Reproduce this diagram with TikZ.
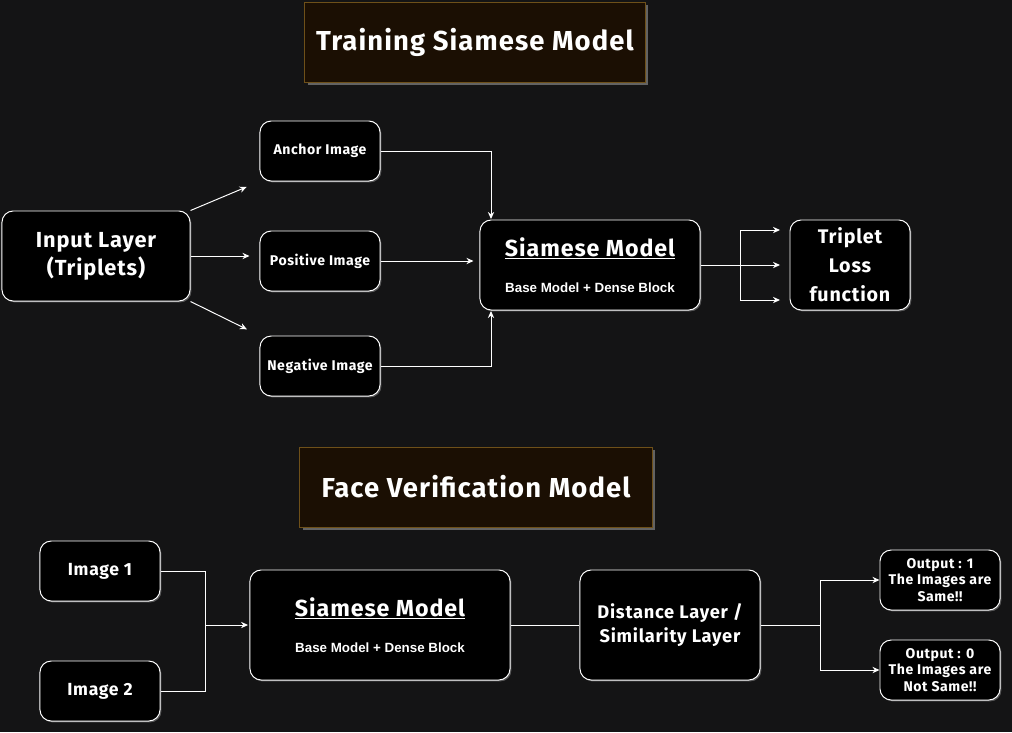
\documentclass[tikz,border=0pt]{standalone}
\usepackage{fontspec}
\setmainfont[LetterSpace=4]{Fira Sans}
\newfontfamily\helv{Liberation Sans}
\usetikzlibrary{positioning, arrows.meta, shadows}

\definecolor{bgdark}{RGB}{20,20,21}
\definecolor{titlefill}{RGB}{27,15,3}
\definecolor{titleedge}{RGB}{110,80,25}

\begin{document}
\begin{tikzpicture}[x=0.025cm, y=-0.025cm, line width=0.7pt, draw=white, >={Stealth[length=5pt,width=4.5pt]}]
	\tikzstyle{block}=[rectangle, rounded corners=8pt, draw=white, fill=black, text=white, align=center, font=\bfseries,
		drop shadow={shadow xshift=1pt, shadow yshift=-1pt, fill=gray!70, opacity=0.45}]
	\tikzstyle{title}=[rectangle, draw=titleedge, fill=titlefill, text=white, font=\bfseries\fontsize{19.5}{22}\selectfont,
		drop shadow={shadow xshift=2pt, shadow yshift=-2pt, fill=gray!60, opacity=0.5}]
	\tikzstyle{small block}=[block, minimum width=3cm, minimum height=1.5cm, font=\bfseries\fontsize{10}{12}\selectfont]
	\tikzstyle{model block}=[block, font=\bfseries\fontsize{16.5}{19}\selectfont]

	% Background
	\fill[bgdark] (0,0) rectangle (1012,732);
	\useasboundingbox (0,0) rectangle (1012,732);

	% Training part
	\node[title, minimum width=8.5cm, minimum height=2cm] (t1) at (475,42) {Training Siamese Model};
	\node[block, minimum width=4.7cm, minimum height=2.25cm, font=\bfseries\fontsize{15.5}{20}\selectfont] (in) at (96,256) {Input Layer\\(Triplets)};
	\node[small block] (anchor) at (320,151) {Anchor Image};
	\node[small block] (pos) at (320,261) {Positive Image};
	\node[small block] (neg) at (320,366) {Negative Image};
	\node[model block, minimum width=5.5cm, minimum height=2.25cm] (siam) at (590,265)
		{\underline{Siamese Model}\\[7pt]{\helv\bfseries\fontsize{9.5}{11}\selectfont Base Model + Dense Block}};
	\node[block, minimum width=3cm, minimum height=2.25cm, font=\bfseries\fontsize{14}{20.5}\selectfont] (trip) at (850,265) {Triplet\\Loss\\function};

	\coordinate (sTop) at (491,219);
	\coordinate (sBot) at (491,311);
	\coordinate (split) at (740,265);
	\foreach \name / \y in {a/230,b/265,c/300}
		\coordinate (tl-\name) at (780,\y);

	% Edges input -> images
	\draw[->, shorten >=0.35cm] (in.north east) -- (anchor.south west);
	\draw[->, shorten >=0.25cm] (in.east) -- (in.east -| pos.west);
	\draw[->, shorten >=0.35cm] (in.south east) -- (neg.north west);

	% Edges images -> model
	\draw[->] (anchor.east) -| (sTop);
	\draw[->, shorten >=0.15cm] (pos.east) -- (pos.east -| siam.west);
	\draw[->] (neg.east) -| (sBot);

	% Edges model -> loss
	\draw (siam.east) -- (split);
	\foreach \name in {a,b,c}
		\draw[->] (split) |- (tl-\name);

	% Verification part
	\node[title, minimum width=8.8cm, minimum height=2cm] (t2) at (476,487) {Face Verification Model};
	\node[block, minimum width=3cm, minimum height=1.5cm, font=\bfseries\fontsize{12.5}{14}\selectfont] (img1) at (100,571) {Image 1};
	\node[block, minimum width=3cm, minimum height=1.5cm, font=\bfseries\fontsize{12.5}{14}\selectfont] (img2) at (100,691) {Image 2};
	\node[model block, minimum width=6.5cm, minimum height=2.75cm] (siam2) at (380,625)
		{\underline{Siamese Model}\\[7pt]{\helv\bfseries\fontsize{9.5}{11}\selectfont Base Model + Dense Block}};
	\node[block, minimum width=4.5cm, minimum height=2.75cm, font=\bfseries\fontsize{13}{17}\selectfont] (dist) at (670,625) {Distance Layer /\\Similarity Layer};
	\node[small block] (out1) at (940,580) {Output : 1\\The Images are\\Same!!};
	\node[small block] (out0) at (940,670) {Output : 0\\The Images are\\Not Same!!};

	\coordinate (join) at (205,625);
	\coordinate (fork) at (820,625);

	% Edges images -> model -> distance -> outputs
	\draw (img1.east) -| (join);
	\draw (img2.east) -| (join);
	\draw[->, shorten >=1pt] (join) -- (siam2.west);
	\draw (siam2.east) -- (dist.west);
	\draw (dist.east) -- (fork);
	\draw[->] (fork) |- (out1.west);
	\draw[->] (fork) |- (out0.west);
\end{tikzpicture}
\end{document}
